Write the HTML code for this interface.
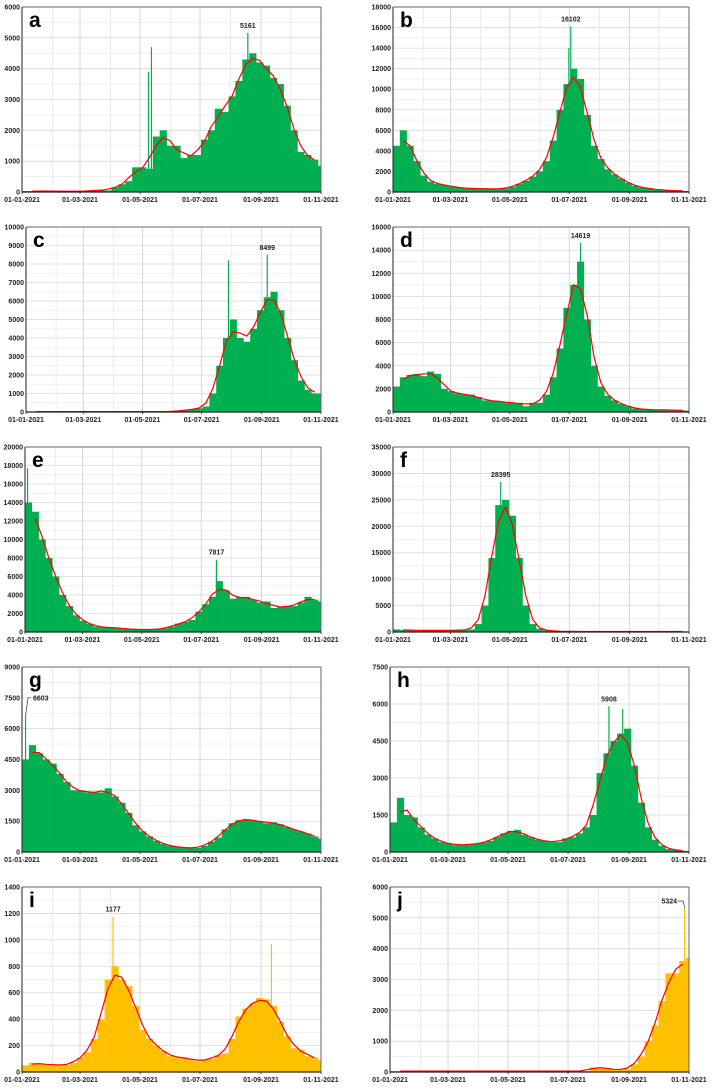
<!DOCTYPE html>
<html><head><meta charset="utf-8"><style>
html,body{margin:0;padding:0;background:#fff}
svg{display:block}
text{font-family:"Liberation Sans",Arial,sans-serif}
</style></head><body>
<svg id="fig" width="714" height="1089" viewBox="0 0 714 1089" xmlns="http://www.w3.org/2000/svg"></svg>
<script>
// weekly values (week k starts Jan 1 + 7k days), 44 weeks
const aVals=[30,30,30,30,30,25,25,25,25,30,40,80,50,150,250,350,800,800,750,1800,2000,1500,1500,1100,1200,1200,1700,2000,2700,2600,3100,3600,4300,4500,4200,4100,3700,3500,2800,2000,1300,1200,1050,850];
const bVals=[4500,6000,4500,3000,1600,1000,800,700,550,450,350,350,350,300,300,300,350,500,800,1100,1500,2000,3000,5000,8000,10500,12000,11000,7500,4500,3200,2200,1700,1300,900,600,450,350,250,200,150,120,100,100];
const cVals=[20,20,20,20,20,20,20,20,20,20,20,20,20,20,20,20,20,20,20,20,20,30,50,100,150,200,300,1000,2500,4000,5000,4000,3800,4500,5500,6200,6500,5500,4000,2800,1700,1200,1000,1000];
const dVals=[2200,3000,3200,3300,3100,3500,3300,2000,1800,1600,1500,1500,1300,1000,1000,900,850,800,800,500,800,800,1500,3000,5500,9000,11000,13000,8000,4000,2200,1400,1000,700,500,300,250,200,200,180,170,160,140,120];
const eVals=[14000,13000,10000,8000,6000,4000,2800,1800,1200,900,600,500,500,450,350,300,300,250,250,300,400,600,900,1100,1300,2200,3000,3800,5500,4500,3600,3800,3800,3500,3200,3300,2600,2700,2800,2800,3200,3800,3500,3300];
const fVals=[500,400,350,300,300,300,300,300,300,350,400,500,1500,5000,14000,24000,25000,22000,14000,5000,1500,600,300,200,150,120,100,100,100,100,100,100,100,100,100,100,100,100,100,100,100,100,100,100];
const gVals=[4500,5200,4800,4500,4300,3800,3400,3000,3000,2900,2900,2900,3100,2700,2400,1900,1300,1000,750,550,400,300,250,200,200,200,300,500,700,1100,1400,1550,1600,1550,1500,1400,1450,1350,1200,1100,1000,900,750,650];
const hVals=[1200,2200,1500,1400,1000,700,550,400,350,280,300,300,330,380,450,600,750,850,900,700,600,500,450,400,400,550,600,750,1000,1500,3200,4000,4500,4800,5000,3500,2000,1000,500,250,120,80,50,40];
const iVals=[50,70,60,60,55,50,55,70,110,150,250,400,700,800,700,650,500,320,250,200,160,120,110,110,100,80,90,100,130,140,250,420,480,520,560,550,500,380,270,180,170,120,110,90];
const jVals=[30,30,30,30,30,30,30,30,30,30,30,30,30,30,30,30,30,30,30,30,30,30,30,30,30,30,30,30,30,150,150,120,80,60,100,250,500,1000,1500,2300,3200,3200,3600,3700];
// spikes: [day, value]; labelled spike listed first
const aSpikes=[[229,5161],[128,3900],[131,4700]];
const bSpikes=[[182,16102],[180,14000]];
const cSpikes=[[248,8499],[208,8200]];
const dSpikes=[[192,14619]];
const eSpikes=[[196,7817],[2,17700]];
const fSpikes=[[110,28395]];
const gSpikes=[[3,6603]];
const hSpikes=[[222,5908],[236,5800]];
const iSpikes=[[92,1177],[253,970]];
const jSpikes=[[299,5324]];
const xTickLabels=["01-01-2021","01-03-2021","01-05-2021","01-07-2021","01-09-2021","01-11-2021"];
const xTickDays=[0,59,120,181,243,304];
const monthDays=[0,31,59,90,120,151,181,212,243,273,304];

const panels=[
 {id:"a",vals:aVals,sp:aSpikes,max:6000,step:1000,l:22,r:321,t:7,b:192,col:"#00b050"},
 {id:"b",vals:bVals,sp:bSpikes,max:18000,step:2000,l:393,r:689,t:7,b:192,col:"#00b050"},
 {id:"c",vals:cVals,sp:cSpikes,max:10000,step:1000,l:26,r:321,t:227,b:412,col:"#00b050"},
 {id:"d",vals:dVals,sp:dSpikes,max:16000,step:2000,l:393,r:689,t:227,b:412,col:"#00b050"},
 {id:"e",vals:eVals,sp:eSpikes,max:20000,step:2000,l:25,r:321,t:447,b:632,col:"#00b050"},
 {id:"f",vals:fVals,sp:fSpikes,max:35000,step:5000,l:393,r:689,t:447,b:632,col:"#00b050"},
 {id:"g",vals:gVals,sp:gSpikes,max:9000,step:1500,l:22,r:321,t:667,b:852,col:"#00b050",lead:"right"},
 {id:"h",vals:hVals,sp:hSpikes,max:7500,step:1500,l:390,r:689,t:667,b:852,col:"#00b050"},
 {id:"i",vals:iVals,sp:iSpikes,max:1400,step:200,l:22,r:321,t:887,b:1072,col:"#ffc000"},
 {id:"j",vals:jVals,sp:jSpikes,max:6000,step:1000,l:390,r:689,t:887,b:1072,col:"#ffc000",lead:"left"}
];
const NS="http://www.w3.org/2000/svg";
const svg=document.getElementById("fig");
function mk(tag,attrs,parent){const e=document.createElementNS(NS,tag);for(const k in attrs)e.setAttribute(k,attrs[k]);(parent||svg).appendChild(e);return e;}
panels.forEach(p=>{
 const g=mk("g",{});
 
 
 const X=d=>p.l+(d/304)*(p.r-p.l);
 const Y=v=>p.b-(v/p.max)*(p.b-p.t);
 for(let v=p.step/2;v<p.max;v+=p.step/2){mk("line",{x1:p.l,x2:p.r,y1:Y(v),y2:Y(v),stroke:(Math.round(v/p.step*2)%2===0)?"#d9d9d9":"#eeeeee","stroke-width":0.8},g);}
 monthDays.forEach((d,i)=>{if(d>0&&d<304)mk("line",{x1:X(d),x2:X(d),y1:p.t,y2:p.b,stroke:(i%2===0)?"#cfcfcf":"#e8e8e8","stroke-width":0.8},g);});
 p.vals.forEach((v,k)=>{
  const d0=7*k,d1=Math.min(7*k+7,304);
  const r=mk("rect",{x:X(d0),y:Y(v),width:X(d1)-X(d0)+0.3,height:p.b-Y(v),fill:p.col},g);
  
  
 });
 p.sp.forEach(s=>{
  const r=mk("rect",{x:X(s[0]),y:Y(s[1]),width:1.2,height:p.b-Y(s[1]),fill:p.col},g);
  
  
 });
 let pts=[];
 for(let k=1;k<p.vals.length-1;k++){const m=(p.vals[k-1]+p.vals[k]+p.vals[k+1])/3;pts.push(X(7*k+3.5).toFixed(1)+","+Y(m).toFixed(1));}
 const ln=mk("polyline",{points:pts.join(" "),fill:"none",stroke:"#ff0000","stroke-width":1.2},g);
 
 
 mk("line",{x1:p.l,x2:p.r,y1:p.t,y2:p.t,stroke:"#666","stroke-width":1},g);
 mk("line",{x1:p.r,x2:p.r,y1:p.t,y2:p.b,stroke:"#666","stroke-width":1},g);
 mk("line",{x1:p.l,x2:p.l,y1:p.t,y2:p.b,stroke:"#222","stroke-width":1},g);
 mk("line",{x1:p.l,x2:p.r,y1:p.b,y2:p.b,stroke:"#222","stroke-width":1.2},g);
 for(let v=0;v<=p.max+0.1;v+=p.step){
  const t=mk("text",{x:p.l-2,y:Y(v)+2.5,"text-anchor":"end","font-size":"7","font-weight":"bold",fill:"#222"},g);
  t.textContent=String(v);
  
  
 }
 xTickDays.forEach((d,i)=>{
  mk("line",{x1:X(d),x2:X(d),y1:p.b,y2:p.b+2,stroke:"#222","stroke-width":0.8},g);
  const t=mk("text",{x:X(d),y:p.b+10,"text-anchor":"middle","font-size":"7","font-weight":"bold",fill:"#222"},g);
  t.textContent=xTickLabels[i];
  
  
 });
 const L=mk("text",{x:p.l+7,y:p.t+20,"font-size":"21","font-weight":"bold",fill:"#000"},g);
 L.textContent=p.id;
 
 
 // peak label on first-listed spike
 const s=p.sp[0];
 let lt;
 if(p.lead==="right"){
  mk("polyline",{points:`${X(s[0])+0.6},${Y(s[1])} ${X(s[0])+3},${Y(7500)} ${X(s[0])+6},${Y(7500)}`,fill:"none",stroke:"#333","stroke-width":0.7},g);
  lt=mk("text",{x:X(s[0])+8,y:Y(7500)+2.5,"font-size":"7","font-weight":"bold",fill:"#222"},g);
 } else if(p.lead==="left"){
  const ly=p.t+14;
  mk("polyline",{points:`${X(s[0])-6},${ly} ${X(s[0])-1},${ly} ${X(s[0])+0.6},${Y(s[1])}`,fill:"none",stroke:"#333","stroke-width":0.7},g);
  lt=mk("text",{x:X(s[0])-7,y:ly+2.5,"text-anchor":"end","font-size":"7","font-weight":"bold",fill:"#222"},g);
 } else {
  lt=mk("text",{x:X(s[0])+0.6,y:Y(s[1])-5,"text-anchor":"middle","font-size":"7","font-weight":"bold",fill:"#222"},g);
 }
 lt.textContent=String(s[1]);
 
 
});
</script>
</body></html>
